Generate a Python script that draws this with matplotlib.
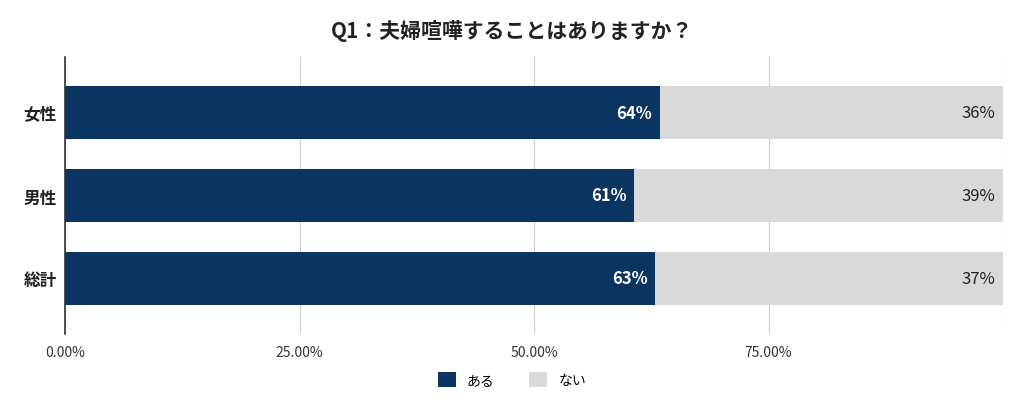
import matplotlib.pyplot as plt
from matplotlib.ticker import FuncFormatter

plt.rcParams['font.family'] = ['Noto Sans CJK JP', 'DejaVu Sans']

categories = ['女性', '男性', '総計']
aru = [63.4, 60.7, 62.9]
nai = [36.6, 39.3, 37.1]
aru_labels = ['64%', '61%', '63%']
nai_labels = ['36%', '39%', '37%']

navy = '#0b3561'
grey = '#d9d9d9'

fig = plt.figure(figsize=(10.24, 4.14), dpi=100)
ax = fig.add_axes([65 / 1024, 79 / 414, 938 / 1024, 277 / 414])

y = range(len(categories))
ax.barh(y, aru, height=0.64, color=navy, label='ある', zorder=2)
ax.barh(y, nai, left=aru, height=0.64, color=grey, label='ない', zorder=2)

for i in y:
    ax.text(aru[i] - 0.8, i, aru_labels[i], ha='right', va='center',
            color='white', fontsize=12, fontweight='bold', zorder=3)
    ax.text(99.2, i, nai_labels[i], ha='right', va='center',
            color='#222222', fontsize=12, zorder=3)

ax.set_xlim(0, 100)
ax.set_ylim(2.669, -0.669)
ax.set_yticks(list(y))
ax.set_yticklabels(categories, fontsize=12, fontweight='bold', color='#222222')
ax.set_xticks([0, 25, 50, 75, 100])
ax.xaxis.set_major_formatter(FuncFormatter(lambda v, p: '' if v == 100 else f'{v:.2f}%'))
ax.tick_params(axis='x', length=0, labelsize=10, colors='#333333', pad=8)
ax.tick_params(axis='y', length=0, pad=6)
ax.grid(axis='x', color='#cccccc', linewidth=0.8, zorder=0)
for s in ['top', 'right', 'bottom']:
    ax.spines[s].set_visible(False)
ax.spines['left'].set_color('#333333')
ax.spines['left'].set_linewidth(1.2)

fig.text(0.5, 0.925, 'Q1：夫婦喧嘩することはありますか？', ha='center', va='center',
         fontsize=15, fontweight='bold', color='#222222')
fig.legend(loc='center', bbox_to_anchor=(0.5, 0.08), ncol=2, frameon=False,
           fontsize=10, handlelength=1.3, handleheight=1.3, columnspacing=2.5)

fig.savefig('out.png', dpi=100)
